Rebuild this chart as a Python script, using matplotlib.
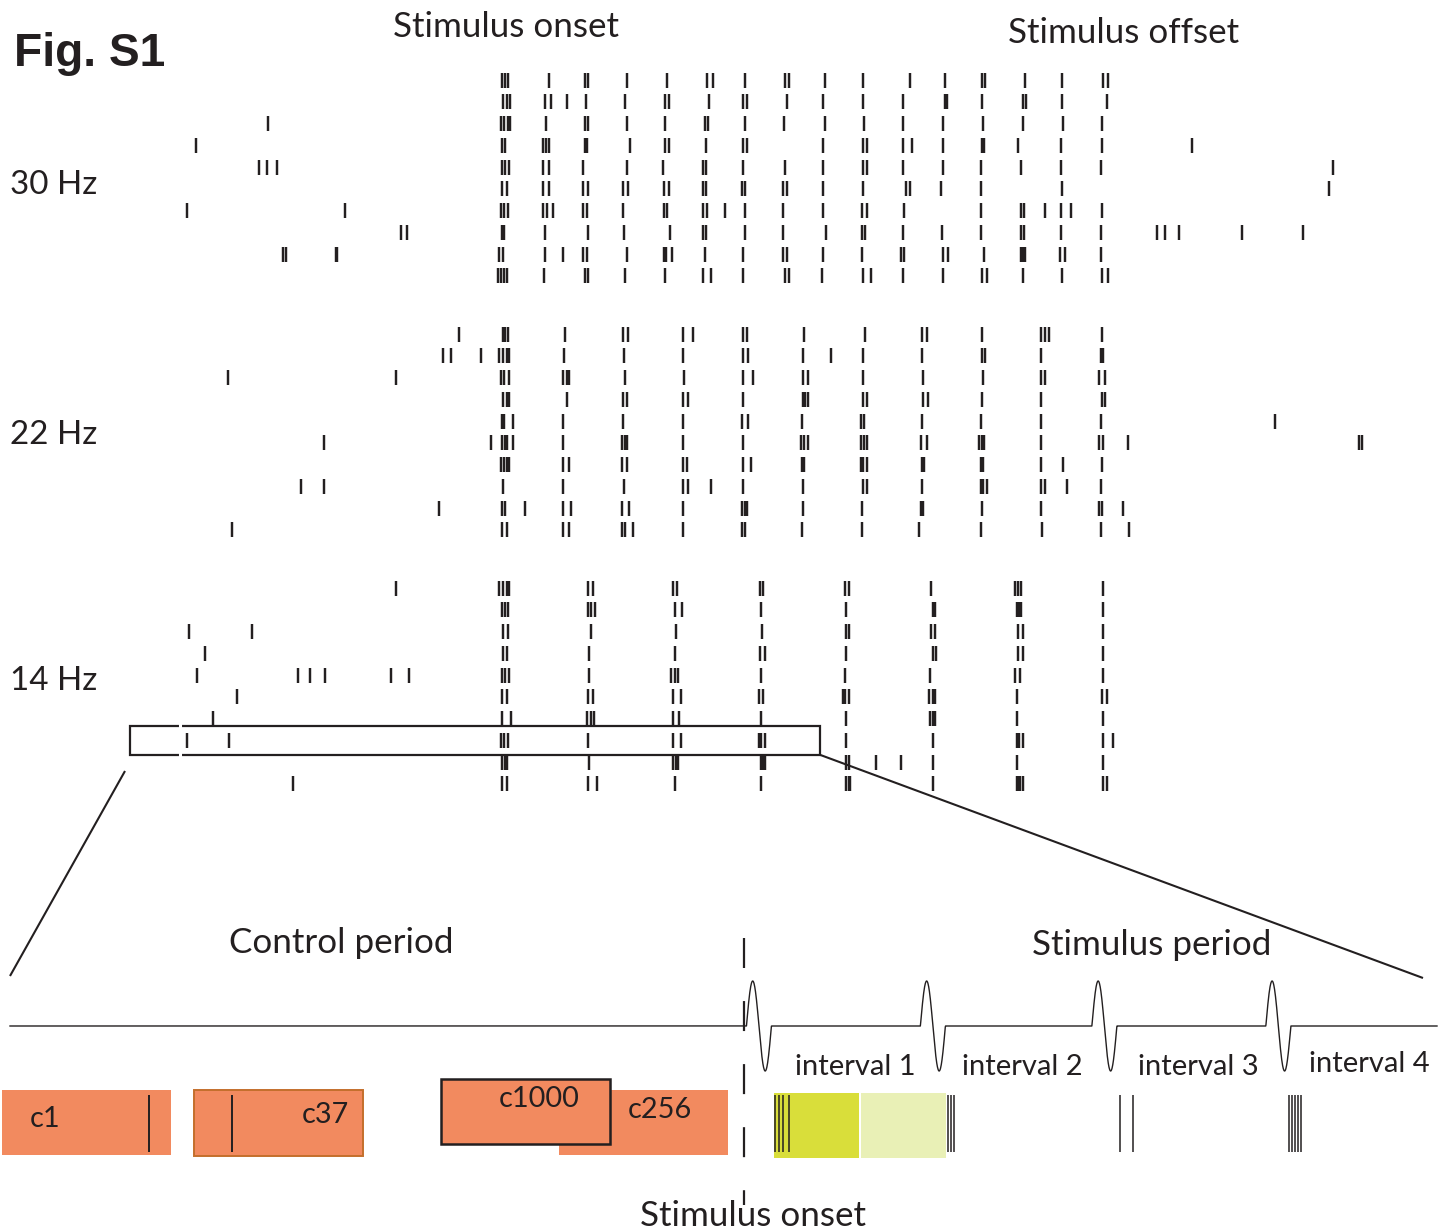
import numpy as np
import matplotlib
matplotlib.use("Agg")
import matplotlib.pyplot as plt
from matplotlib.patches import Rectangle

plt.rcParams["lines.scale_dashes"] = False

# ---------------- data ----------------
conditions = ["30 Hz", "22 Hz", "14 Hz"]

# spike times (ms, stimulus onset = 0), 10 trials per condition
spikes_30hz = [
    [-1, 2, 4, 38, 68, 71, 103, 137, 170, 175, 202, 235, 238, 268, 300, 339, 368, 399, 402, 435, 466, 500, 504],
    [0, 3, 6, 35, 40, 53, 69, 102, 135, 138, 172, 200, 203, 237, 267, 300, 333, 368, 370, 399, 433, 436, 466, 503],
    [-196, -2, 1, 4, 6, 36, 68, 71, 103, 135, 168, 171, 202, 234, 268, 301, 333, 367, 400, 433, 467, 499],
    [-256, -1, 2, 33, 36, 38, 68, 70, 106, 135, 138, 169, 200, 203, 267, 300, 303, 333, 341, 367, 399, 401, 429, 465, 499, 574],
    [-203, -197, -188, -1, 2, 5, 33, 38, 67, 103, 133, 167, 169, 200, 235, 267, 300, 303, 333, 367, 398, 432, 465, 498, 692],
    [-1, 3, 33, 38, 67, 71, 100, 104, 134, 138, 167, 169, 199, 202, 233, 237, 267, 300, 336, 339, 365, 398, 466, 688],
    [-263, -132, -2, 1, 4, 33, 37, 42, 67, 70, 100, 134, 137, 167, 170, 185, 202, 233, 267, 299, 303, 334, 398, 432, 434, 452, 465, 473, 499],
    [-85, -80, -1, 1, 35, 71, 101, 139, 167, 169, 202, 233, 269, 299, 302, 333, 366, 398, 432, 434, 465, 498, 545, 552, 563, 616, 667],
    [-183, -181, -139, -138, -3, 0, 35, 50, 67, 70, 103, 134, 136, 141, 168, 200, 233, 237, 267, 299, 332, 334, 367, 371, 401, 432, 433, 435, 464, 468, 498],
    [-4, -2, 1, 3, 34, 68, 71, 102, 135, 167, 173, 200, 235, 238, 266, 300, 307, 333, 367, 399, 403, 433, 466, 499, 504],
]
spikes_22hz = [
    [-37, 0, 2, 4, 52, 100, 104, 150, 158, 200, 203, 251, 302, 349, 353, 399, 448, 452, 455, 499],
    [-50, -43, -18, -3, 0, 3, 5, 51, 101, 150, 200, 204, 250, 273, 300, 349, 399, 402, 448, 498, 500],
    [-229, -89, -2, 1, 5, 50, 53, 55, 102, 151, 200, 208, 250, 254, 300, 350, 400, 448, 452, 497, 502],
    [0, 3, 5, 53, 100, 103, 150, 154, 200, 250, 252, 254, 300, 303, 350, 354, 399, 448, 499, 502],
    [-1, 1, 8, 50, 100, 150, 199, 204, 249, 298, 301, 349, 398, 448, 498, 643],
    [-149, -10, -1, 2, 3, 8, 50, 99, 102, 103, 150, 200, 248, 251, 254, 298, 301, 303, 348, 353, 397, 399, 401, 448, 497, 500, 521, 713, 716],
    [-2, 1, 3, 5, 50, 55, 99, 103, 150, 153, 200, 207, 249, 251, 298, 300, 303, 349, 351, 398, 400, 448, 467, 499],
    [-168, -149, 0, 50, 101, 150, 154, 173, 200, 250, 300, 303, 349, 398, 400, 403, 448, 452, 470, 498],
    [-53, -1, 2, 18, 50, 57, 99, 105, 150, 199, 202, 203, 250, 299, 348, 350, 399, 448, 497, 499, 517],
    [-226, -1, 3, 50, 55, 99, 102, 108, 150, 199, 202, 249, 299, 347, 398, 449, 498, 522],
]
spikes_14hz = [
    [-89, -3, 0, 3, 5, 71, 75, 142, 145, 214, 217, 285, 288, 357, 427, 429, 432, 500],
    [-1, 2, 4, 71, 73, 77, 143, 149, 215, 286, 358, 360, 428, 430, 432, 500],
    [-262, -209, 0, 4, 73, 144, 216, 286, 288, 357, 360, 429, 433, 500],
    [-248, 0, 3, 72, 143, 214, 218, 286, 358, 361, 429, 433, 500],
    [-255, -171, -161, -148, -93, -78, -1, 2, 5, 72, 140, 143, 146, 215, 285, 356, 427, 431, 500],
    [-222, -1, 3, 71, 75, 142, 148, 213, 217, 283, 285, 288, 355, 358, 360, 428, 499, 503],
    [-242, -1, 7, 70, 73, 76, 142, 147, 215, 286, 356, 358, 360, 428, 500],
    [-263, -228, -2, 1, 4, 71, 142, 148, 213, 215, 218, 286, 358, 428, 430, 433, 500, 508],
    [-1, 2, 3, 72, 142, 144, 146, 215, 217, 218, 286, 288, 311, 332, 358, 428, 500],
    [-175, -1, 3, 71, 78, 143, 215, 286, 288, 289, 358, 428, 429, 431, 433, 500, 503],
]
spike_blocks = [spikes_30hz, spikes_22hz, spikes_14hz]

# zoomed trial: 14 Hz, trial 8, window in ms
zoom_condition = 2
zoom_trial = 7
zoom_window_ms = [-311, 264]

# schematic (ms, stimulus onset = 0)
pulse_times_ms = [1, 72, 142, 213]
interval_labels = ["interval 1", "interval 2", "interval 3", "interval 4"]
control_names = ["c1", "c37", "c256", "c1000"]
control_starts_ms = [-303, -224.5, -75.5, -123.7]
control_len_ms = 69
control_spikes_ms = [-243, -209]
interval1_halves_ms = [12.2, 47.8]
half_len_ms = 34.7
stim_spikes_ms = [12.7, 14.3, 15.9, 18.4, 83.3, 84.5, 85.7, 153.5, 158.8,
                  222.4, 223.7, 224.9, 226.1, 227.3]

# ---------------- layout ----------------
W, H = 1450, 1232
INK = "#231f20"
ORANGE = "#f28a5f"
ORANGE_EDGE = "#c46f2c"
YELLOW = "#d9de3a"
LIGHT_YELLOW = "#e9f0b6"

R_ONSET_PX, R_PX_PER_MS = 503, 1.2
S_ONSET_PX, S_PX_PER_MS = 744, 2.45
block_top = [80, 334, 588]
row_step = 21.75


def rx(px):
    return (px - R_ONSET_PX) / R_PX_PER_MS


def sxm(px):
    return (px - S_ONSET_PX) / S_PX_PER_MS


fig = plt.figure(figsize=(W / 100, H / 100), dpi=100)
fig.patch.set_facecolor("white")

ax = fig.add_axes([0, 0, 1, 1], label="raster")
ax.set_xlim(rx(0), rx(W))
ax.set_ylim(H, 0)
ax.axis("off")

sx = fig.add_axes([0, 0, 1, 1], label="schematic", facecolor="none")
sx.set_xlim(sxm(0), sxm(W))
sx.set_ylim(H, 0)
sx.axis("off")

# ---- raster ----
rows, offsets = [], []
for b, block in enumerate(spike_blocks):
    for i, tr in enumerate(block):
        rows.append(tr)
        offsets.append(block_top[b] + i * row_step)
ax.eventplot(rows, lineoffsets=offsets, linelengths=15, linewidths=1.75, colors=INK)

# zoom rectangle
zy = block_top[zoom_condition] + zoom_trial * row_step
ax.add_patch(Rectangle((zoom_window_ms[0], zy - 14.5), zoom_window_ms[1] - zoom_window_ms[0], 29,
                       fill=False, lw=1.6, ec=INK, zorder=3))
gap_t = rx(180)
ax.vlines([gap_t, gap_t], [zy - 17, zy + 12], [zy - 12, zy + 17], color="white", lw=2.2, zorder=4)
# connectors
ax.plot([rx(125), rx(10)], [771, 976], color=INK, lw=1.5, solid_capstyle="butt")
ax.plot([zoom_window_ms[1], rx(1423)], [zy + 14.5, 978], color=INK, lw=1.5, solid_capstyle="butt")

# ---- schematic ----
t = np.linspace(sxm(10), sxm(1437), 6000)
y = np.full_like(t, 1026.0)
half = 5.1
for p in pulse_times_ms:
    s = t - p
    up = (s >= 0) & (s < half)
    dn = (s >= half) & (s < 2 * half)
    y[up] -= 45 * np.sin(np.pi * s[up] / half)
    y[dn] += 45 * np.sin(np.pi * (s[dn] - half) / half)
sx.plot(t, y, color=INK, lw=1.0)

sx.plot([0, 0], [938, 1205], color=INK, lw=1.6, linestyle=(0, (21.6, 23.8)), zorder=5)

for name, st in zip(control_names, control_starts_ms):
    if name == "c1000":
        sx.add_patch(Rectangle((st, 1079), control_len_ms, 65, fc=ORANGE, ec=INK, lw=1.8, zorder=3))
    elif name == "c37":
        sx.add_patch(Rectangle((st, 1089.5), control_len_ms, 66, fc=ORANGE, ec=ORANGE_EDGE, lw=1.4, zorder=2))
    else:
        sx.add_patch(Rectangle((st, 1090), control_len_ms, 65, fc=ORANGE, ec="none", zorder=2))
sx.vlines(control_spikes_ms, 1095, 1152, color=INK, lw=1.4, zorder=4)

sx.add_patch(Rectangle((interval1_halves_ms[0], 1093), half_len_ms, 65, fc=YELLOW, ec="none", zorder=2))
sx.add_patch(Rectangle((interval1_halves_ms[1], 1093), half_len_ms, 65, fc=LIGHT_YELLOW, ec="none", zorder=2))
sx.vlines(stim_spikes_ms, 1095, 1152, color=INK, lw=1.1, zorder=4)

# ---------------- text ----------------
renderer = fig.canvas.get_renderer()
FAM = ["Lato", "DejaVu Sans"]


def put(s, left, base, size, family=FAM, weight="normal"):
    return fig.text(left / W, 1 - base / H, s, fontsize=size, family=family,
                    weight=weight, ha="left", va="baseline", color=INK)


def fit_size(s, width, family=FAM, weight="normal"):
    tt = fig.text(0, 0, s, fontsize=20, family=family, weight=weight)
    w = tt.get_window_extent(renderer).width
    tt.remove()
    return 20 * width / w


put("Fig. S1", 14, 66, fit_size("Fig. S1", 151, ["Liberation Sans"], "bold"),
    family=["Liberation Sans", "DejaVu Sans"], weight="bold")

big = fit_size("Stimulus onset", 226)
put("Stimulus onset", 393, 37, big)
put("Stimulus offset", 1008, 43, big)
put("Control period", 229, 953, big)
put("Stimulus period", 1032, 955, big)
put("Stimulus onset", 640, 1226, big)

hz = fit_size("30 Hz", 87)
for lab, base in zip(conditions, [194, 444, 690]):
    put(lab, 10, base, hz)

iv = fit_size("interval 1", 121)
for lab, left, base in zip(interval_labels, [795, 962, 1138, 1309], [1075, 1075, 1075, 1072]):
    put(lab, left, base, iv)

cs = fit_size("c1000", 81)
for lab, left, base in zip(["c1", "c37", "c1000", "c256"], [30, 302, 499, 628], [1127, 1123, 1107, 1118]):
    t_ = put(lab, left, base, cs)
    t_.set_zorder(10)

fig.savefig("out.png", dpi=100, facecolor="white")
